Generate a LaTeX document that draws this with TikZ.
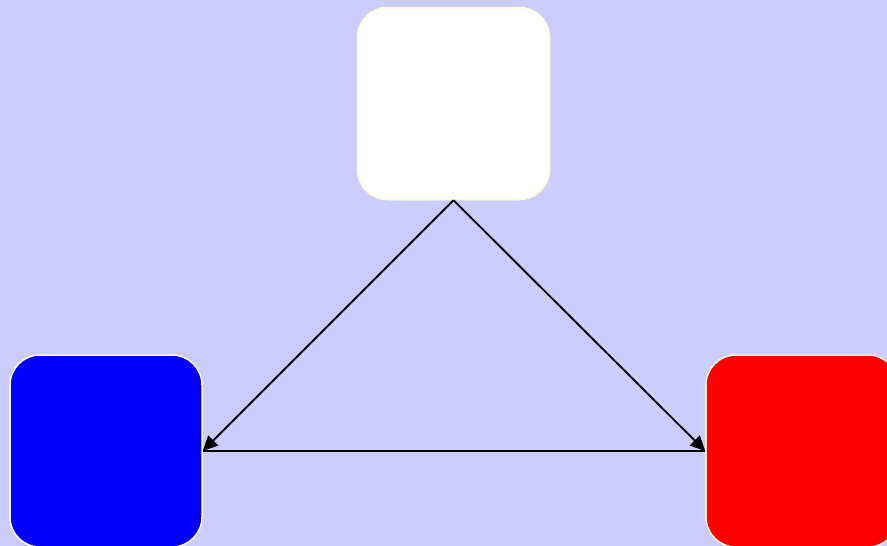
\documentclass[tikz,border=0pt]{standalone}
\usetikzlibrary{arrows.meta}
\definecolor{bgc}{HTML}{CCCCFF}
\definecolor{edgec}{HTML}{FFFFCC}
\begin{document}
\begin{tikzpicture}[x=1pt,y=-1pt,
  card/.style={draw=edgec,line width=1.5pt,rounded corners=30pt,minimum width=192pt,minimum height=192pt,inner sep=0pt},
  conn/.style={draw=black,line width=1.9pt},
  arr/.style={conn,-{Triangle[length=15pt,width=14pt]}}]
\fill[bgc] (0,0) rectangle (887,546);
\useasboundingbox (0,0) rectangle (887,546);
\node[card,fill=white] (top) at (453.5,103.5) {};
\node[card,fill=blue] (blue) at (106,451) {};
\node[card,fill=red] (red) at (802,451) {};
\draw[conn] (blue.east) -- (red.west);
\draw[arr] (top.south) -- (blue.east);
\draw[arr] (top.south) -- (red.west);
\end{tikzpicture}
\end{document}
